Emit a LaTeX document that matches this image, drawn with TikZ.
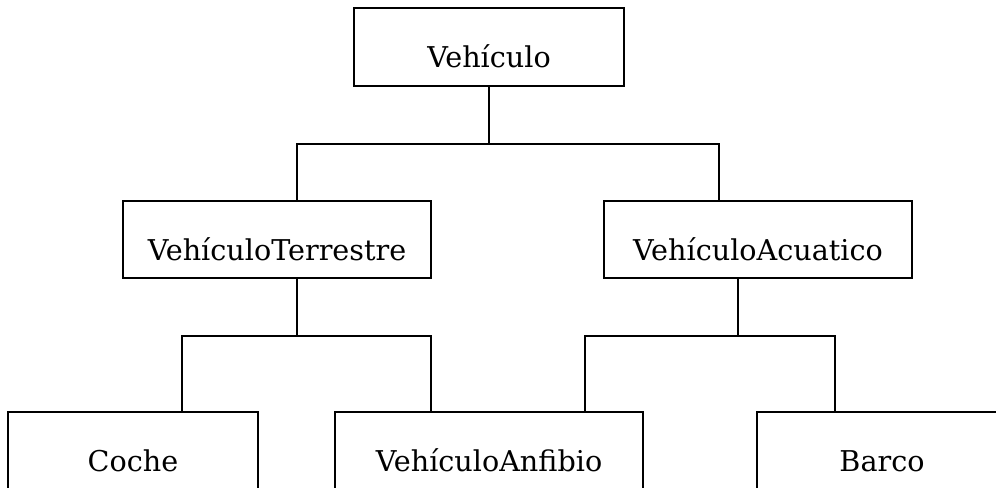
\documentclass[tikz,border=0pt]{standalone}
\usepackage{fontspec}
\setmainfont{DejaVu Serif}

\begin{document}
\begin{tikzpicture}[
	x=0.02cm,
	y=-0.02cm,
	classbox/.style={
		rectangle,
		draw,
		line width=1.2pt,
		inner sep=0pt,
		text height=34pt,
		text depth=10.2pt,
		font=\fontsize{16.3}{19}\selectfont
	},
	link/.style={
		line width=1.2pt
	}
]

\useasboundingbox (0,0) rectangle (996,487);
\clip (0,0) rectangle (996,487);

\def\widebox{6.16cm}
\def\narrowbox{5cm}

\node [classbox, minimum width=5.4cm] (vehiculo) at (489,47) {Vehículo};

\node [classbox, minimum width=\widebox] (terrestre) at (277,239.5) {VehículoTerrestre};
\node [classbox, minimum width=\widebox] (acuatico) at (758,239.5) {VehículoAcuatico};

\node [classbox, minimum width=\narrowbox] (coche) at (133,451) {Coche};
\node [classbox, minimum width=\widebox] (anfibio) at (489,451) {VehículoAnfibio};
\node [classbox, minimum width=\narrowbox] (barco) at (882,451) {Barco};



% parent / hub x / hub y / left child / its x / right child / its x
\foreach \parent/\hubx/\huby/\leftchild/\leftx/\rightchild/\rightx in {
	vehiculo/489/144/terrestre/297/acuatico/719,
	terrestre/297/336/coche/182/anfibio/431,
	acuatico/738/336/anfibio/585/barco/835%
} {
	\coordinate (hub) at (\hubx,\huby);
	\coordinate (leftdrop) at (\leftx,\huby);
	\coordinate (rightdrop) at (\rightx,\huby);

	\draw [link] (\parent.south -| hub) -- (hub);
	\draw [link] (\leftchild.north -| leftdrop) -- (leftdrop) -- (rightdrop) -- (\rightchild.north -| rightdrop);
}

\end{tikzpicture}
\end{document}
